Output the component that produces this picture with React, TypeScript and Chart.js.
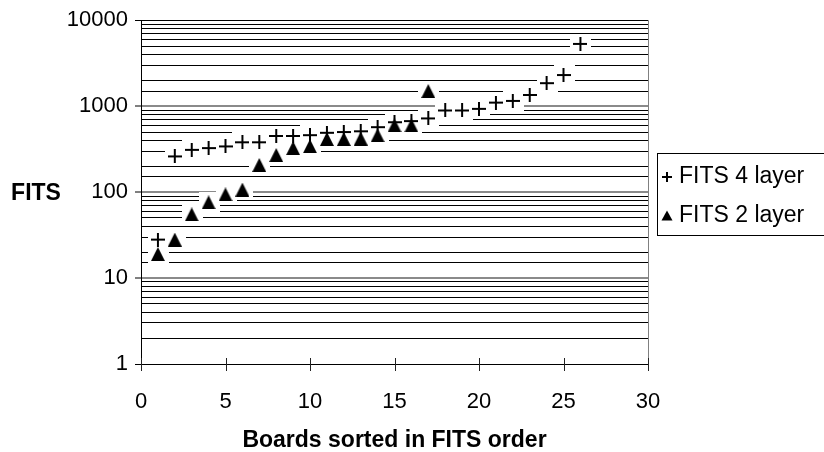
import React, { useEffect, useRef } from 'react';
import { Chart, registerables } from 'chart.js';

Chart.register(...registerables);

// ---- data ----
const boardsFits4 = [1, 2, 3, 4, 5, 6, 7, 8, 9, 10, 11, 12, 13, 14, 15, 16, 17, 18, 19, 20, 21, 22, 23, 24, 25, 26];
const fits4Layer = [28, 260, 310, 325, 340, 380, 380, 450, 450, 460, 490, 500, 510, 570, 650, 670, 720, 890, 890, 930, 1100, 1150, 1350, 1850, 2300, 5300];
const boardsFits2 = [1, 2, 3, 4, 5, 6, 7, 8, 9, 10, 11, 12, 13, 14, 15, 16, 17];
const fits2Layer = [19, 28, 55, 76, 94, 107, 207, 270, 325, 342, 415, 415, 420, 458, 597, 597, 1500];
const seriesLabels = ['FITS 4 layer', 'FITS 2 layer'];
const xTickValues = [0, 5, 10, 15, 20, 25, 30];
const yMajorTicks = [1, 10, 100, 1000, 10000];
const xTitle = 'Boards sorted in FITS order';
const yTitle = 'FITS';

const FONT = "'Liberation Sans', Arial, Helvetica, sans-serif";

const isMajor = (v: number) => yMajorTicks.some((m) => Math.abs(m - v) < 1e-6 * m);

function makePlus(size: number, lw: number) {
  const c = document.createElement('canvas');
  c.width = size;
  c.height = size;
  const g = c.getContext('2d')!;
  g.fillStyle = '#000';
  const h = Math.floor((size - lw) / 2);
  g.fillRect(0, h, size, lw);
  g.fillRect(h, 0, lw, size);
  return c;
}

function makeTriangle(w: number, h: number) {
  const c = document.createElement('canvas');
  c.width = w;
  c.height = h;
  const g = c.getContext('2d')!;
  g.fillStyle = '#000';
  g.beginPath();
  g.moveTo(w / 2, 0);
  g.lineTo(w, h);
  g.lineTo(0, h);
  g.closePath();
  g.fill();
  return c;
}

const decorPlugin = {
  id: 'decor',
  beforeDatasetsDraw(chart: any) {
    const ctx = chart.ctx;
    ctx.save();
    ctx.fillStyle = '#fff';
    chart.data.datasets.forEach((_ds: any, i: number) => {
      const meta = chart.getDatasetMeta(i);
      meta.data.forEach((el: any) => {
        ctx.fillRect(Math.round(el.x) - 10, Math.round(el.y) - 10, 21, 20);
      });
    });
    ctx.restore();
  },
  afterDatasetsDraw(chart: any) {
    const ctx = chart.ctx;
    const area = chart.chartArea;
    const xs = chart.scales.x;
    ctx.save();
    // right border of plot area
    ctx.strokeStyle = '#808080';
    ctx.lineWidth = 1;
    ctx.beginPath();
    ctx.moveTo(Math.round(area.right) + 0.5, area.top);
    ctx.lineTo(Math.round(area.right) + 0.5, area.bottom);
    ctx.stroke();
    // x axis crossing tick marks
    ctx.strokeStyle = '#222';
    ctx.beginPath();
    xTickValues.forEach((v) => {
      const px = Math.round(xs.getPixelForValue(v)) + 0.5;
      ctx.moveTo(px, area.bottom - 6);
      ctx.lineTo(px, area.bottom + 7);
    });
    ctx.stroke();
    ctx.restore();
  },
  afterDraw(chart: any) {
    const ctx = chart.ctx;
    const area = chart.chartArea;
    ctx.save();
    ctx.fillStyle = '#000';
    ctx.textAlign = 'center';
    ctx.textBaseline = 'middle';
    ctx.font = `bold 23px ${FONT}`;
    ctx.fillText(yTitle, 36, 194);
    ctx.fillText(xTitle, (area.left + area.right) / 2, 441);

    // legend
    ctx.strokeStyle = '#000';
    ctx.lineWidth = 1;
    ctx.strokeRect(657.5, 153.5, 200, 82);
    // plus marker
    ctx.fillRect(662, 176, 10, 2);
    ctx.fillRect(666, 172, 2, 10);
    // triangle marker
    ctx.beginPath();
    ctx.moveTo(667, 210.5);
    ctx.lineTo(672.5, 220.5);
    ctx.lineTo(661.5, 220.5);
    ctx.closePath();
    ctx.fill();
    ctx.textAlign = 'left';
    ctx.font = `23px ${FONT}`;
    ctx.fillText(chart.data.datasets[0].label, 679, 177);
    ctx.fillText(chart.data.datasets[1].label, 679, 216);
    ctx.restore();
  },
};

export default function App() {
  const ref = useRef<HTMLCanvasElement | null>(null);

  useEffect(() => {
    if (!ref.current) return;
    Chart.defaults.font.family = FONT;
    Chart.defaults.color = '#000';
    const plus = makePlus(14, 2);
    const tri = makeTriangle(14, 14);

    const chart = new Chart(ref.current, {
      type: 'scatter',
      data: {
        datasets: [
          {
            label: seriesLabels[0],
            data: boardsFits4.map((b, i) => ({ x: b, y: fits4Layer[i] })),
            pointStyle: plus as any,
            showLine: false,
          },
          {
            label: seriesLabels[1],
            data: boardsFits2.map((b, i) => ({ x: b, y: fits2Layer[i] })),
            pointStyle: tri as any,
            showLine: false,
          },
        ],
      },
      options: {
        animation: false,
        responsive: false,
        devicePixelRatio: 1,
        layout: { padding: { left: 0, top: 15, right: 176, bottom: 0 } },
        plugins: {
          legend: { display: false },
          tooltip: { enabled: false },
          title: { display: false },
        },
        scales: {
          x: {
            type: 'linear',
            min: 0,
            max: 30,
            afterFit: (s: any) => {
              s.height = 88;
            },
            afterBuildTicks: (s: any) => {
              s.ticks = xTickValues.map((v) => ({ value: v }));
            },
            grid: { display: false, drawTicks: false },
            border: { display: false },
            ticks: {
              font: { size: 22 },
              padding: 25,
              color: '#000',
              maxRotation: 0,
              autoSkip: false,
            },
          },
          y: {
            type: 'logarithmic',
            min: 1,
            max: 10000,
            afterFit: (s: any) => {
              s.width = 141;
            },
            grid: {
              display: true,
              drawTicks: true,
              tickLength: 6,
              color: (c: any) => {
                const v = c.tick ? c.tick.value : 0;
                return isMajor(v) && v > 1 && v < 10000 ? '#8a8a8a' : '#000';
              },
              lineWidth: (c: any) => {
                const v = c.tick ? c.tick.value : 0;
                return isMajor(v) && v > 1 && v < 10000 ? 2 : 1;
              },
              tickColor: (c: any) => (c.tick && isMajor(c.tick.value) ? '#000' : 'rgba(0,0,0,0)'),
              tickWidth: 1,
            },
            border: { display: true, color: '#000', width: 1 },
            ticks: {
              font: { size: 22 },
              padding: 7,
              color: '#000',
              autoSkip: false,
              callback: (v: any) => (isMajor(Number(v)) ? String(v) : ''),
            },
          },
        },
      },
      plugins: [decorPlugin],
    });
    return () => chart.destroy();
  }, []);

  return (
    <div style={{ position: 'absolute', left: 0, top: 0, width: 824, height: 452, background: '#fff' }}>
      <canvas ref={ref} width={824} height={452} style={{ display: 'block' }} />
    </div>
  );
}
